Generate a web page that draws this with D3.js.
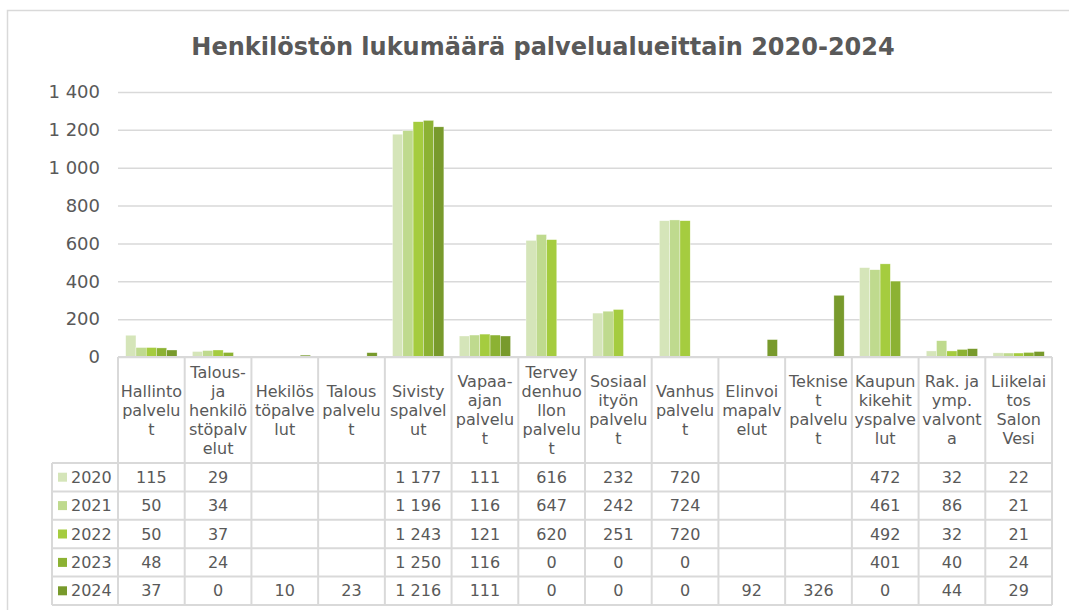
<!DOCTYPE html>
<html>
<head>
<meta charset="utf-8">
<script src="https://cdn.jsdelivr.net/npm/d3@7"></script>
<style>
  html, body { margin: 0; padding: 0; background: #fff; }
  svg { display: block; font-family: "DejaVu Sans", Verdana, sans-serif; }
</style>
</head>
<body>
<svg id="chart" width="1069" height="610"></svg>
<script>
// ---- data ----
const title = "Henkilöstön lukumäärä palvelualueittain 2020-2024";
const categories = [
  "Hallintopalvelut", "Talous- ja henkilöstöpalvelut", "Hekilöstöpalvelut", "Talouspalvelut",
  "Sivistyspalvelut", "Vapaa-ajan palvelut", "Terveydenhuollon palvelut", "Sosiaalityön palvelut",
  "Vanhuspalvelut", "Elinvoimapalvelut", "Tekniset palvelut", "Kaupunkikehityspalvelut",
  "Rak. ja ymp. valvonta", "Liikelaitos Salon Vesi"
];
const categoryLines = [
  ["Hallinto", "palvelu", "t"],
  ["Talous-", "ja", "henkilö", "stöpalv", "elut"],
  ["Hekilös", "töpalve", "lut"],
  ["Talous", "palvelu", "t"],
  ["Sivisty", "spalvel", "ut"],
  ["Vapaa-", "ajan", "palvelu", "t"],
  ["Tervey", "denhuo", "llon", "palvelu", "t"],
  ["Sosiaal", "ityön", "palvelu", "t"],
  ["Vanhus", "palvelu", "t"],
  ["Elinvoi", "mapalv", "elut"],
  ["Teknise", "t", "palvelu", "t"],
  ["Kaupun", "kikehit", "yspalve", "lut"],
  ["Rak. ja", "ymp.", "valvont", "a"],
  ["Liikelai", "tos", "Salon", "Vesi"]
];
const years = ["2020", "2021", "2022", "2023", "2024"];
const values2020 = [115, 29, null, null, 1177, 111, 616, 232, 720, null, null, 472, 32, 22];
const values2021 = [50, 34, null, null, 1196, 116, 647, 242, 724, null, null, 461, 86, 21];
const values2022 = [50, 37, null, null, 1243, 121, 620, 251, 720, null, null, 492, 32, 21];
const values2023 = [48, 24, null, null, 1250, 116, 0, 0, 0, null, null, 401, 40, 24];
const values2024 = [37, 0, 10, 23, 1216, 111, 0, 0, 0, 92, 326, 0, 44, 29];
const seriesValues = [values2020, values2021, values2022, values2023, values2024];
const seriesColors = ["#d5e5b9", "#bfda8e", "#a5cc3f", "#8cb233", "#789a2c"];
const yTicks = [0, 200, 400, 600, 800, 1000, 1200, 1400];

// ---- layout ----
const svg = d3.select("#chart");
const textColor = "#595959";
const lineColor = "#d9d9d9";
const plot = { left: 118, right: 1052, top: 92, bottom: 357 };
const table = { left: 52, headerBottom: 463, rowH: 28.4 };

const locale = d3.formatLocale({ decimal: ",", thousands: "\u00a0", grouping: [3], currency: ["", ""] });
const fmt = locale.format(",d");

// outer chart border
svg.append("rect")
  .attr("x", 7.5).attr("y", 10.5).attr("width", 1200).attr("height", 800)
  .attr("fill", "none").attr("stroke", lineColor).attr("stroke-width", 1.5);

// title
svg.append("text")
  .attr("x", 543).attr("y", 55)
  .attr("text-anchor", "middle")
  .attr("font-size", 24).attr("font-weight", "bold")
  .attr("fill", textColor)
  .text(title);

// scales
const x0 = d3.scaleBand().domain(categories).range([plot.left, plot.right]).paddingInner(0).paddingOuter(0);
const x1 = d3.scaleBand().domain(years).range([0, x0.bandwidth()]).paddingInner(0).paddingOuter(0.75);
const y = d3.scaleLinear().domain([0, 1400]).range([plot.bottom, plot.top]);

// gridlines + y axis
const yAxis = d3.axisLeft(y).tickValues(yTicks).tickFormat(fmt)
  .tickSize(-(plot.right - plot.left)).tickPadding(18);
const gy = svg.append("g").attr("transform", `translate(${plot.left},0)`).call(yAxis);
gy.select(".domain").remove();
gy.selectAll(".tick line").attr("stroke", lineColor).attr("stroke-width", 1.5);
gy.selectAll(".tick text").attr("fill", textColor).attr("font-size", 18)
  .attr("font-family", "DejaVu Sans, Verdana, sans-serif");

// bars
const groups = svg.append("g").selectAll("g")
  .data(years.map((yr, i) => ({ year: yr, color: seriesColors[i], vals: seriesValues[i] })))
  .join("g").attr("fill", d => d.color);
groups.selectAll("rect")
  .data(d => d.vals.map((v, j) => ({ year: d.year, cat: categories[j], v }))
    .filter(e => e.v !== null && e.v > 0))
  .join("rect")
  .attr("x", e => x0(e.cat) + x1(e.year))
  .attr("width", x1.bandwidth())
  .attr("y", e => y(e.v))
  .attr("height", e => y(0) - y(e.v))
  .attr("stroke", "#ffffff").attr("stroke-width", 0.5).attr("stroke-opacity", 0.7);

// ---- data table ----
const tbl = svg.append("g");
const nRows = years.length;
const tableBottom = table.headerBottom + nRows * table.rowH;

// axis line / header top
tbl.append("line").attr("x1", plot.left).attr("x2", plot.right)
  .attr("y1", plot.bottom).attr("y2", plot.bottom)
  .attr("stroke", lineColor).attr("stroke-width", 2);

// vertical lines at category boundaries
const bounds = categories.map(c => x0(c)).concat([plot.right]);
tbl.selectAll(".vline").data(bounds).join("line")
  .attr("x1", d => d).attr("x2", d => d)
  .attr("y1", plot.bottom).attr("y2", tableBottom)
  .attr("stroke", lineColor).attr("stroke-width", 2);
// left edge of legend column
tbl.append("line").attr("x1", table.left).attr("x2", table.left)
  .attr("y1", table.headerBottom).attr("y2", tableBottom)
  .attr("stroke", lineColor).attr("stroke-width", 2);
// horizontal row lines
tbl.selectAll(".hline").data(d3.range(nRows + 1)).join("line")
  .attr("x1", table.left).attr("x2", plot.right)
  .attr("y1", i => table.headerBottom + i * table.rowH)
  .attr("y2", i => table.headerBottom + i * table.rowH)
  .attr("stroke", lineColor).attr("stroke-width", 2);

// header labels
const headerMid = (plot.bottom + table.headerBottom) / 2;
const lineH = 19;
tbl.selectAll(".hdr").data(categories).join("text")
  .attr("text-anchor", "middle")
  .attr("font-size", 16).attr("fill", textColor)
  .each(function (c, i) {
    const lines = categoryLines[i];
    const cx = x0(c) + x0.bandwidth() / 2;
    const y0 = headerMid - (lines.length - 1) * lineH / 2;
    d3.select(this).selectAll("tspan").data(lines).join("tspan")
      .attr("x", cx).attr("y", (l, k) => y0 + k * lineH)
      .attr("dy", "0.35em").text(l => l);
  });

// rows
years.forEach((yr, i) => {
  const cy = table.headerBottom + (i + 0.5) * table.rowH;
  tbl.append("rect").attr("x", 58).attr("y", cy - 4.5).attr("width", 9).attr("height", 9)
    .attr("fill", seriesColors[i]);
  tbl.append("text").attr("x", 71).attr("y", cy).attr("dy", "0.35em")
    .attr("font-size", 16).attr("fill", textColor).text(yr);
  tbl.selectAll(".v" + yr).data(seriesValues[i].map((v, j) => ({ v, cat: categories[j] })))
    .join("text")
    .attr("x", d => x0(d.cat) + x0.bandwidth() / 2)
    .attr("y", cy).attr("dy", "0.35em")
    .attr("text-anchor", "middle").attr("font-size", 16).attr("fill", textColor)
    .text(d => d.v === null ? "" : fmt(d.v));
});
</script>
</body>
</html>
